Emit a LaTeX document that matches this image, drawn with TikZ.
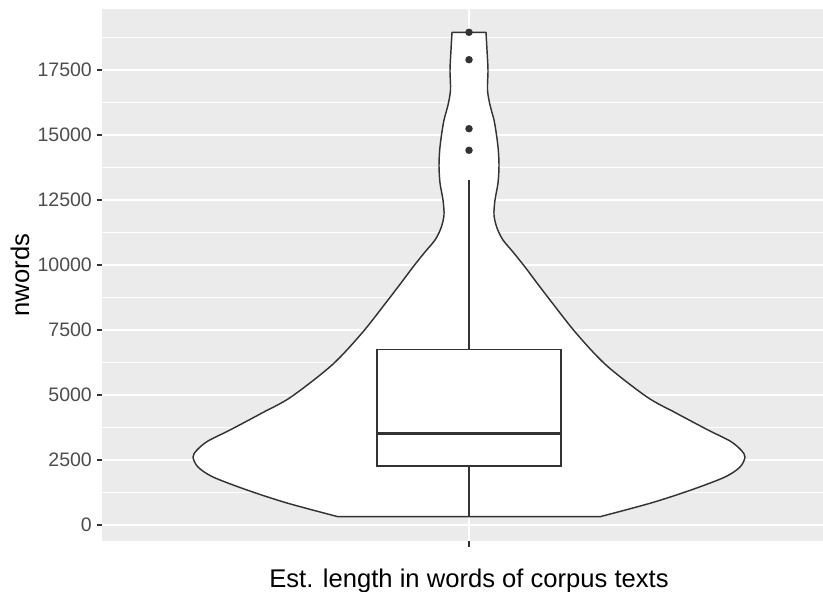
\documentclass[tikz,border=0pt]{standalone}
\usepackage{fontspec}
\setmainfont{Liberation Sans}
\definecolor{panelbg}{HTML}{EBEBEB}
\definecolor{ink}{HTML}{333333}
\definecolor{ticktext}{HTML}{4D4D4D}
\tikzset{
  majorgrid/.style={draw=white, line width=1.7pt},
  minorgrid/.style={draw=white, line width=0.85pt},
  violinshape/.style={draw=ink, fill=white, line width=1.45pt, line join=round},
  boxshape/.style={draw=ink, fill=white, line width=1.4pt},
  medianline/.style={draw=ink, line width=3pt},
  whisker/.style={draw=ink, line width=1.4pt},
  outlier/.style={circle, fill=ink, inner sep=0pt, minimum size=7.5pt},
  tickmark/.style={draw=ink, line width=1.2pt},
  ticklabel/.style={anchor=east, text=ticktext, font=\fontsize{19.5}{20}\selectfont, inner sep=0pt},
  axistitle/.style={text=black, font=\fontsize{25.6}{27}\selectfont, inner sep=0pt}
}
\begin{document}
\begin{tikzpicture}[x=1pt,y=-1pt]
\useasboundingbox (0,0) rectangle (823,592);
\fill[white] (0,0) rectangle (823,592);
% panel
\fill[panelbg] (102,9) rectangle (823,541);
% minor gridlines
\foreach \yy in {37.5,102.5,167.5,232.5,297.5,362.5,427.5,492.5}
  \draw[minorgrid] (102,\yy) -- (823,\yy);
% major gridlines
\foreach \yy in {70,135,200,265,330,395,460,525}
  \draw[majorgrid] (102,\yy) -- (823,\yy);
\draw[majorgrid] (469,9) -- (469,541);
% violin
\path[violinshape] (452,32.3) -- (486,32.3)
  -- plot[smooth,tension=0.5] coordinates {
  (486,32.3) (487,50) (488,70) (487.5,90) (490,105) (494,120) (496.5,135)
  (498.3,150) (499,166) (498,183) (495,200) (494,215) (497,228) (503,240)
  (513,252) (525,267) (537,283) (550,300) (576,333) (606,365) (647,397)
  (676,413) (708,430) (730,441) (741,450) (745,457) (740,467) (725,477)
  (691,490) (651,503) (600,516.7)}
  -- plot[smooth,tension=0.5] coordinates {
  (338,516.7) (287,503) (247,490) (213,477) (198,467) (193,457) (197,450)
  (208,441) (230,430) (262,413) (291,397) (332,365) (362,333) (388,300)
  (401,283) (413,267) (425,252) (435,240) (441,228) (444,215)
  (443,200) (440,183) (439,166) (439.7,150) (441.5,135) (444,120) (448,105)
  (450.5,90) (450,70) (451,50) (452,32.3)}
  -- cycle;
% box and whiskers
\coordinate (wtop) at (469,179.5);
\coordinate (q3) at (469,349.3);
\coordinate (q1) at (469,466);
\coordinate (wbot) at (469,516.7);
\draw[whisker] (wtop) -- (q3);
\draw[whisker] (q1) -- (wbot);
\path[boxshape] (377,349.3) rectangle (561,466);
\coordinate (medl) at (377,433.3);
\coordinate (medr) at (561,433.3);
\draw[medianline] (medl) -- (medr);
% outliers
\node[outlier] (o1) at (469,32.3) {};
\node[outlier] (o2) at (469,59.7) {};
\node[outlier] (o3) at (469,128.7) {};
\node[outlier] (o4) at (469,150.3) {};
% y ticks and labels
\foreach \v/\yy in {0/525,2500/460,5000/395,7500/330,10000/265,12500/200,15000/135,17500/70}{
  \draw[tickmark] (96.5,\yy) -- (102,\yy);
  \node[ticklabel] (yl\v) at (92,\yy) {\v};
}
% x tick
\draw[tickmark] (469,541) -- (469,546.5);
% axis titles
\node[axistitle, rotate=90] (ytitle) at (20,275) {nwords};
\node[axistitle, anchor=base] (xtitle) at (469,587.5) {Est. length in words of corpus texts};
\end{tikzpicture}
\end{document}
